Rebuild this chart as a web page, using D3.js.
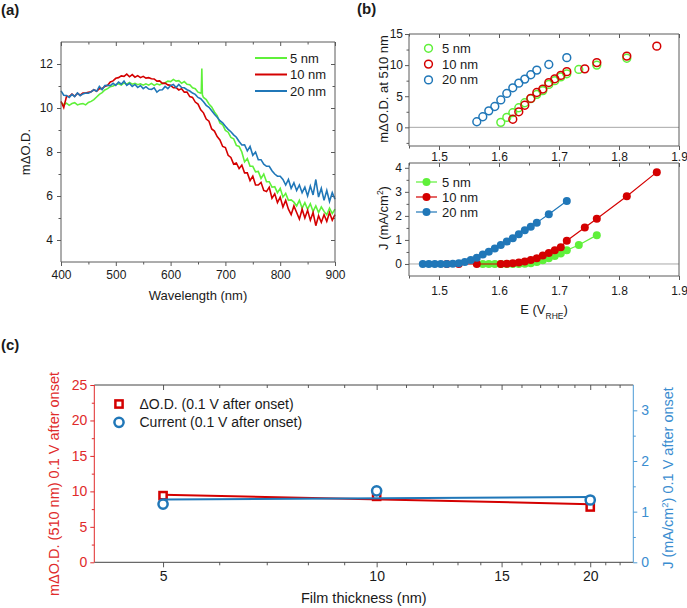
<!DOCTYPE html>
<html><head><meta charset="utf-8">
<script src="https://cdn.jsdelivr.net/npm/d3@7"></script>
<style>body{margin:0;background:#fff}svg{display:block}</style>
</head><body>
<svg id="chart" width="687" height="608"></svg>
<script>
// ---------------- DATA ----------------
// (a) spectra, sampled every 5 nm from 400 to 900 nm
const wavelengths = d3.range(400, 901, 5);
const od5nm = [10.25,10.15,10.22,10.12,10.2,10.24,10.14,10.18,10.2,10.14,10.25,
 10.3,10.38,10.5,10.62,10.7,10.82,10.88,10.97,11.0,11.07,
 11.1,11.04,11.14,11.08,11.16,11.08,11.12,11.06,11.1,11.04,
 11.1,11.04,11.12,11.03,11.1,11.05,11.12,11.15,11.22,11.2,
 11.3,11.22,11.24,11.12,11.2,11.08,11.06,10.92,10.88,10.72,
 10.68,10.48,10.38,10.18,10.05,9.82,9.65,9.32,9.24,8.98,
 8.9,8.66,8.6,8.3,8.25,8.0,7.55,7.7,7.35,7.35,
 7.1,7.12,6.8,7.0,6.65,6.65,6.4,6.42,6.15,6.35,
 5.95,6.12,5.8,5.82,5.72,5.55,5.8,5.45,5.7,5.4,
 5.65,5.3,5.55,5.25,5.5,5.3,5.15,5.45,5.2,5.4];
const spike5nmWl = [656, 657, 658];
const spike5nmOd = [10.7, 11.8, 10.6];
const od10nm = [10.3,10.02,10.52,10.52,10.63,10.53,10.67,10.58,10.68,10.68,10.72,
 10.74,10.83,10.76,10.88,10.88,10.98,11.03,11.18,11.23,11.35,
 11.38,11.46,11.44,11.54,11.42,11.52,11.4,11.47,11.38,11.44,
 11.36,11.38,11.33,11.32,11.22,11.23,11.12,11.13,11.05,11.03,
 10.92,10.93,10.82,10.88,10.72,10.72,10.52,10.48,10.27,10.18,
 9.92,9.78,9.5,9.4,9.05,8.95,8.7,8.55,8.25,8.2,
 7.85,7.75,7.45,7.5,7.25,7.4,7.05,7.05,6.7,6.9,
 6.5,6.5,6.62,6.25,6.2,6.4,5.9,6.1,5.7,5.95,
 5.5,5.8,5.4,5.15,5.55,5.25,4.95,5.4,5.0,5.35,
 4.9,5.25,4.65,5.1,4.8,5.15,4.85,5.25,4.9,5.15];
const od20nm = [10.78,10.58,10.57,10.48,10.62,10.52,10.68,10.56,10.64,10.68,10.67,
 10.73,10.83,10.76,10.98,10.83,11.02,11.03,11.02,11.12,11.03,
 11.18,11.08,11.22,11.03,11.12,10.98,11.07,10.93,11.02,10.88,
 10.97,10.86,10.84,10.92,10.72,10.82,10.83,10.98,10.88,11.02,
 11.07,10.93,11.07,10.93,10.92,10.83,10.77,10.68,10.62,10.48,
 10.42,10.28,10.12,10.03,9.88,9.72,9.58,9.42,9.33,9.17,
 9.03,8.92,8.78,8.67,8.48,8.32,8.33,8.05,8.25,7.85,
 8.0,7.65,7.65,7.45,7.35,7.35,7.15,7.0,6.9,6.9,
 6.75,6.5,6.75,6.35,6.6,6.25,6.5,6.15,6.4,6.0,
 6.45,6.05,6.75,5.95,6.35,5.8,6.25,5.75,6.15,5.85];
const seriesNames = ["5 nm", "10 nm", "20 nm"];
const aXTicks = [400, 500, 600, 700, 800, 900];
const aXMinor = [450, 550, 650, 750, 850];
const aYTicks = [4, 6, 8, 10, 12];
const aYMinor = [5, 7, 9, 11];

// (b) top: mΔO.D. at 510 nm vs E
const eOD5 = [1.603,1.613,1.623,1.633,1.643,1.653,1.663,1.673,1.683,1.693,1.703,1.713,1.733,1.763,1.813];
const od510_5 = [0.8,1.6,2.35,3.15,3.95,4.6,5.3,5.9,6.9,7.5,8.1,8.6,9.3,10.0,11.1];
const eOD10 = [1.623,1.633,1.643,1.653,1.663,1.673,1.683,1.693,1.703,1.713,1.743,1.763,1.813,1.863];
const od510_10 = [1.3,2.5,3.55,4.65,5.6,6.15,7.2,7.8,8.35,8.95,9.4,10.4,11.45,13.05];
const eOD20 = [1.563,1.573,1.583,1.593,1.603,1.613,1.623,1.633,1.643,1.653,1.663,1.683,1.713];
const od510_20 = [0.9,1.7,2.65,3.35,4.4,5.45,6.35,7.1,7.75,8.45,9.2,10.1,11.2];
// (b) bottom: J vs E
const eJ5 = [1.573,1.583,1.593,1.603,1.613,1.623,1.633,1.643,1.653,1.663,1.673,1.683,1.693,1.703,1.713,1.733,1.763];
const j5 = [0,0,0,0,0,0,0,0.01,0.03,0.08,0.15,0.24,0.33,0.44,0.57,0.79,1.2];
const eJ10 = [1.513,1.533,1.563,1.603,1.613,1.623,1.633,1.643,1.653,1.663,1.673,1.683,1.693,1.703,1.713,1.743,1.763,1.813,1.863];
const j10 = [0,0,0,0,0.01,0.03,0.06,0.1,0.17,0.24,0.35,0.46,0.57,0.7,0.97,1.52,1.88,2.82,3.82];
const eJ20 = [1.473,1.483,1.493,1.503,1.513,1.523,1.533,1.543,1.553,1.563,1.573,1.583,1.593,1.603,1.613,1.623,1.633,1.643,1.653,1.663,1.683,1.713];
const j20 = [0,0,0,0,0,0.01,0.03,0.08,0.17,0.26,0.39,0.51,0.64,0.79,0.94,1.07,1.24,1.40,1.55,1.72,2.07,2.62];
const bXTicks = [1.5, 1.6, 1.7, 1.8, 1.9];
const bXMinor = [1.45, 1.55, 1.65, 1.75, 1.85];
const bTopYTicks = [0, 5, 10, 15];
const bTopYMinor = [-2.5, 2.5, 7.5, 12.5];
const bBotYTicks = [0, 1, 2, 3, 4];
const bBotYMinor = [0.5, 1.5, 2.5, 3.5];

// (c) vs film thickness
const thickness = [5, 10, 20];
const odOnset = [9.4, 9.3, 7.8];
const jOnset = [1.15, 1.41, 1.23];
const fitThickness = [5, 20];
const odFit = [9.53, 8.2];
const jFit = [1.24, 1.29];
const cXTicks = [5, 10, 15, 20];
const cXMinor = [6,7,8,9,11,12,13,14,16,17,18,19,21,22];
const cYLTicks = [0, 5, 10, 15, 20, 25];
const cYLMinor = [2.5, 7.5, 12.5, 17.5, 22.5];
const cYRTicks = [0, 1, 2, 3];
const cYRMinor = [0.5, 1.5, 2.5];
const cLegend = ["\u0394O.D. (0.1 V after onset)", "Current (0.1 V after onset)"];

// ---------------- STYLE ----------------
const FONT = "'Liberation Sans', Arial, sans-serif";
const INK = "#1a1a1a", FRAME = "#5a5a5a";
const GREEN = "#5ff03a", RED = "#d40000", BLUE = "#2077b8";
const colors = [GREEN, RED, BLUE];
const C_RED_AX = "#e02a2a", C_BLUE_AX = "#4a9ad6";
const fmtD = d3.format("d"), fmt1 = d3.format(".1f");

const svg = d3.select("#chart").style("font-family", FONT);

function addAxis(orient, scale, pos, o) {
  const gen = {bottom: d3.axisBottom, top: d3.axisTop, left: d3.axisLeft, right: d3.axisRight}[orient](scale)
    .tickValues(o.values).tickSizeOuter(0).tickSize(o.size).tickPadding(o.pad == null ? 3 : o.pad);
  gen.tickFormat(o.labels ? (o.format || fmtD) : "");
  const horiz = orient === "bottom" || orient === "top";
  const g = svg.append("g").attr("transform", horiz ? `translate(0,${pos})` : `translate(${pos},0)`).call(gen);
  g.attr("font-family", null).attr("font-size", null);
  g.select(".domain").remove();
  g.selectAll(".tick line").attr("stroke", o.color || FRAME).attr("stroke-width", 1);
  g.selectAll(".tick text").attr("fill", o.textColor || INK).style("font-size", (o.fontSize || 12) + "px").style("font-family", FONT);
  return g;
}
function frameLine(x1, y1, x2, y2, color, w) {
  svg.append("line").attr("x1", x1).attr("y1", y1).attr("x2", x2).attr("y2", y2)
    .attr("stroke", color || FRAME).attr("stroke-width", w || 1);
}
function panelLabel(t, x, y) {
  svg.append("text").attr("x", x).attr("y", y).text(t).attr("font-weight", "bold")
    .style("font-size", "15px").attr("fill", INK);
}
function rotTitle(x, y, parts, size, color) {
  const t = svg.append("text").attr("transform", `translate(${x},${y}) rotate(-90)`)
    .attr("text-anchor", "middle").attr("dy", "0.35em").style("font-size", size + "px").attr("fill", color || INK);
  parts.forEach(p => {
    const s = t.append("tspan").text(p.t);
    if (p.sup) s.attr("baseline-shift", "super").style("font-size", (size * 0.65) + "px");
    if (p.sub) s.attr("baseline-shift", "sub").style("font-size", (size * 0.65) + "px");
  });
  return t;
}

// ---------------- PANEL (a) ----------------
panelLabel("(a)", 1, 15);
const xA = d3.scaleLinear().domain([400, 900]).range([61, 335]);
const yA = d3.scaleLinear().domain([3, 13]).range([262, 42]);
const [aL, aR] = xA.range(), [aB, aT] = yA.range();
addAxis("bottom", xA, aB, {values: aXTicks, size: 4, pad: 4, labels: true});
addAxis("bottom", xA, aB, {values: aXMinor, size: 2.5});
addAxis("top", xA, aT, {values: aXTicks, size: -4});
addAxis("top", xA, aT, {values: aXMinor, size: -2.5});
addAxis("left", yA, aL, {values: aYTicks, size: 4, pad: 4, labels: true});
addAxis("left", yA, aL, {values: aYMinor, size: 2.5});
addAxis("right", yA, aR, {values: aYTicks, size: -4});
addAxis("right", yA, aR, {values: aYMinor, size: -2.5});

const specs = [
  wavelengths.map((w, i) => [w, od5nm[i]]).concat(spike5nmWl.map((w, i) => [w, spike5nmOd[i]])).sort((a, b) => a[0] - b[0]),
  wavelengths.map((w, i) => [w, od10nm[i]]),
  wavelengths.map((w, i) => [w, od20nm[i]])
];
const lineA = d3.line().x(d => xA(d[0])).y(d => yA(d[1]));
specs.forEach((s, k) => {
  svg.append("path").attr("d", lineA(s)).attr("fill", "none").attr("stroke", colors[k])
    .attr("stroke-width", 1.6).attr("stroke-linejoin", "miter");
});
frameLine(aL, aT, aR, aT); frameLine(aL, aB, aR, aB); frameLine(aL, aT, aL, aB); frameLine(aR, aT, aR, aB);
// legend (a)
seriesNames.forEach((n, k) => {
  const y = 58 + k * 16.5;
  frameLine(255, y, 287, y, colors[k], 2);
  svg.append("text").attr("x", 290).attr("y", y + 4.5).text(n).style("font-size", "13px").attr("fill", INK);
});
svg.append("text").attr("x", (aL + aR) / 2).attr("y", 300).attr("text-anchor", "middle")
  .style("font-size", "13px").attr("fill", INK).text("Wavelength (nm)");
rotTitle(25, (aT + aB) / 2, [{t: "m\u0394O.D."}], 13);

// ---------------- PANEL (b) ----------------
panelLabel("(b)", 357, 14);
const xB = d3.scaleLinear().domain([1.45, 1.9]).range([409, 679]);
const yBt = d3.scaleLinear().domain([-3, 15]).range([146, 34]);
const yBb = d3.scaleLinear().domain([-0.5, 4.2]).range([276, 163]);
const [bL, bR] = xB.range();
// top panel axes
addAxis("bottom", xB, yBt.range()[0], {values: bXTicks, size: 4, pad: 2, labels: true, format: fmt1});
addAxis("bottom", xB, yBt.range()[0], {values: bXMinor, size: 2.5});
addAxis("top", xB, yBt.range()[1], {values: bXTicks, size: -4});
addAxis("top", xB, yBt.range()[1], {values: bXMinor, size: -2.5});
addAxis("left", yBt, bL, {values: bTopYTicks, size: 4, pad: 2, labels: true});
addAxis("left", yBt, bL, {values: bTopYMinor, size: 2.5});
// bottom panel axes
addAxis("bottom", xB, yBb.range()[0], {values: bXTicks, size: 4, pad: 6, labels: true, format: fmt1});
addAxis("bottom", xB, yBb.range()[0], {values: bXMinor, size: 2.5});
addAxis("top", xB, yBb.range()[1], {values: bXTicks, size: -4});
addAxis("top", xB, yBb.range()[1], {values: bXMinor, size: -2.5});
addAxis("left", yBb, bL, {values: bBotYTicks, size: 4, pad: 3, labels: true});
addAxis("left", yBb, bL, {values: bBotYMinor, size: 2.5});
// zero lines
frameLine(bL, yBt(0), bR, yBt(0), "#a8a8a8");
frameLine(bL, yBb(0), bR, yBb(0), "#a8a8a8");
// frames
[yBt, yBb].forEach(ys => {
  const [b, t] = ys.range();
  frameLine(bL, t, bR, t); frameLine(bL, b, bR, b); frameLine(bL, t, bL, b); frameLine(bR, t, bR, b);
});
// top: open circles
const odSets = [[eOD5, od510_5], [eOD10, od510_10], [eOD20, od510_20]];
odSets.forEach(([ex, vy], k) => {
  svg.append("g").selectAll("circle").data(ex.map((e, i) => [e, vy[i]])).join("circle")
    .attr("cx", d => xB(d[0])).attr("cy", d => yBt(d[1])).attr("r", 3.9)
    .attr("fill", "none").attr("stroke", colors[k]).attr("stroke-width", 1.5);
});
// bottom: line + filled circles
const jSets = [[eJ5, j5], [eJ10, j10], [eJ20, j20]];
const lineB = d3.line().x(d => xB(d[0])).y(d => yBb(d[1]));
jSets.forEach(([ex, vy], k) => {
  const pts = ex.map((e, i) => [e, vy[i]]);
  svg.append("path").attr("d", lineB(pts)).attr("fill", "none").attr("stroke", colors[k]).attr("stroke-width", 1.2);
  svg.append("g").selectAll("circle").data(pts).join("circle")
    .attr("cx", d => xB(d[0])).attr("cy", d => yBb(d[1])).attr("r", 4).attr("fill", colors[k]);
});
// legends (b)
seriesNames.forEach((n, k) => {
  const y = 48.3 + k * 15.8;
  svg.append("circle").attr("cx", 428.5).attr("cy", y).attr("r", 3.9).attr("fill", "none")
    .attr("stroke", colors[k]).attr("stroke-width", 1.5);
  svg.append("text").attr("x", 442).attr("y", y + 4.5).text(n).style("font-size", "13px").attr("fill", INK);
  const y2 = 182 + k * 15;
  frameLine(416, y2, 437, y2, colors[k], 1.2);
  svg.append("circle").attr("cx", 426.5).attr("cy", y2).attr("r", 4).attr("fill", colors[k]);
  svg.append("text").attr("x", 442).attr("y", y2 + 4.5).text(n).style("font-size", "13px").attr("fill", INK);
});
rotTitle(383, 89, [{t: "m\u0394O.D. at 510 nm"}], 13);
rotTitle(383, 218, [{t: "J (mA/cm"}, {t: "2", sup: true}, {t: ")"}], 13);
{
  const t = svg.append("text").attr("x", (bL + bR) / 2).attr("y", 314).attr("text-anchor", "middle")
    .style("font-size", "13px").attr("fill", INK);
  t.append("tspan").text("E (V");
  t.append("tspan").text("RHE").attr("baseline-shift", "sub").style("font-size", "8.5px");
  t.append("tspan").text(")");
}

// ---------------- PANEL (c) ----------------
panelLabel("(c)", 1, 350);
const xC = d3.scaleLog().domain([4, 23]).range([94.3, 633.3]);
const yCL = d3.scaleLinear().domain([0, 25]).range([562.3, 385]);
const yCR = d3.scaleLinear().domain([0, 3.5]).range([562.3, 385]);
const [cL, cR] = xC.range(), [cB, cT] = yCL.range();
addAxis("bottom", xC, cB, {values: cXTicks, size: 5, pad: 4, labels: true, fontSize: 14});
addAxis("bottom", xC, cB, {values: cXMinor, size: 3});
addAxis("top", xC, cT, {values: cXTicks, size: -5});
addAxis("top", xC, cT, {values: cXMinor, size: -3});
addAxis("left", yCL, cL, {values: cYLTicks, size: 4, pad: 3, labels: true, fontSize: 14, color: C_RED_AX, textColor: C_RED_AX});
addAxis("left", yCL, cL, {values: cYLMinor, size: 2.5, color: C_RED_AX});
addAxis("right", yCR, cR, {values: cYRTicks, size: 4, pad: 4, labels: true, fontSize: 14, color: C_BLUE_AX, textColor: "#3a8dd0"});
addAxis("right", yCR, cR, {values: cYRMinor, size: 2.5, color: C_BLUE_AX});
frameLine(cL, cT, cR, cT, "#444"); frameLine(cL, cB, cR, cB, "#444");
frameLine(cL, cT, cL, cB, C_RED_AX); frameLine(cR, cT, cR, cB, C_BLUE_AX);

const lineCL = d3.line().x(d => xC(d[0])).y(d => yCL(d[1]));
const lineCR = d3.line().x(d => xC(d[0])).y(d => yCR(d[1]));
svg.append("path").attr("d", lineCL(fitThickness.map((t, i) => [t, odFit[i]])))
  .attr("fill", "none").attr("stroke", RED).attr("stroke-width", 2);
svg.append("g").selectAll("rect").data(thickness.map((t, i) => [t, odOnset[i]])).join("rect")
  .attr("x", d => xC(d[0]) - 3.6).attr("y", d => yCL(d[1]) - 3.6).attr("width", 7.2).attr("height", 7.2)
  .attr("fill", "#fff").attr("stroke", RED).attr("stroke-width", 2.5);
svg.append("path").attr("d", lineCR(fitThickness.map((t, i) => [t, jFit[i]])))
  .attr("fill", "none").attr("stroke", BLUE).attr("stroke-width", 2);
svg.append("g").selectAll("circle").data(thickness.map((t, i) => [t, jOnset[i]])).join("circle")
  .attr("cx", d => xC(d[0])).attr("cy", d => yCR(d[1])).attr("r", 4.6)
  .attr("fill", "#fff").attr("stroke", BLUE).attr("stroke-width", 2.5);
// legend (c)
svg.append("rect").attr("x", 119 - 3.6).attr("y", 404 - 3.6).attr("width", 7.2).attr("height", 7.2)
  .attr("fill", "#fff").attr("stroke", RED).attr("stroke-width", 2.5);
svg.append("circle").attr("cx", 119).attr("cy", 422.3).attr("r", 4.6)
  .attr("fill", "#fff").attr("stroke", BLUE).attr("stroke-width", 2.5);
cLegend.forEach((n, k) => {
  svg.append("text").attr("x", 139.5).attr("y", 404 + k * 18.3 + 5).text(n).style("font-size", "14px").attr("fill", INK);
});
svg.append("text").attr("x", (cL + cR) / 2).attr("y", 603).attr("text-anchor", "middle")
  .style("font-size", "14.5px").attr("fill", INK).text("Film thickness (nm)");
rotTitle(54, 484, [{t: "m\u0394O.D. (510 nm) 0.1 V after onset"}], 14.5, C_RED_AX);
rotTitle(668, 478, [{t: "J (mA/cm"}, {t: "2", sup: true}, {t: ") 0.1 V after onset"}], 14.5, "#3a8dd0");
</script>
</body></html>
